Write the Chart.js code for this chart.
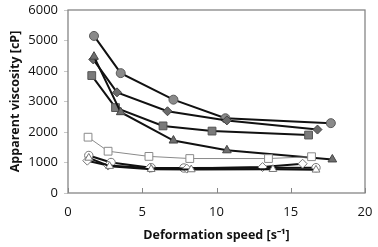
<!DOCTYPE html>
<html>
<head>
<meta charset="utf-8">
<script src="https://cdn.jsdelivr.net/npm/chart.js@4"></script>
<style>
  html, body { margin: 0; padding: 0; background: #fff; }
  #wrap { width: 378px; height: 247px; }
</style>
</head>
<body>
<div id="wrap"><canvas id="viscChart" width="378" height="247"></canvas></div>
<script>
// values
const grayCircleX = [1.75, 3.55, 7.1, 10.6, 17.7];
const grayCircleY = [5150, 3930, 3060, 2450, 2290];
const grayDiamondX = [1.7, 3.3, 6.7, 10.7, 16.8];
const grayDiamondY = [4380, 3300, 2680, 2380, 2080];
const graySquareX = [1.6, 3.2, 6.4, 9.7, 16.2];
const graySquareY = [3850, 2800, 2200, 2030, 1900];
const grayTriangleX = [1.75, 3.55, 7.1, 10.7, 17.8];
const grayTriangleY = [4470, 2650, 1720, 1400, 1100];
const openSquareX = [1.35, 2.7, 5.45, 8.2, 13.5, 16.4];
const openSquareY = [1830, 1370, 1200, 1130, 1130, 1190];
const openCircleX = [1.4, 2.9, 5.6, 7.8, 16.7];
const openCircleY = [1230, 1000, 830, 820, 830];
const openDiamondX = [1.3, 2.7, 5.5, 8.0, 13.1, 15.8];
const openDiamondY = [1060, 900, 820, 800, 850, 960];
const openTriangleX = [1.4, 2.8, 5.6, 8.3, 13.8, 16.7];
const openTriangleY = [1150, 880, 780, 770, 780, 760];
const xTicks = [0, 5, 10, 15, 20];
const yTicks = [0, 1000, 2000, 3000, 4000, 5000, 6000];

const toPoints = (xs, ys) => xs.map((x, i) => ({ x: x, y: ys[i] }));

const series = [
  { xs: openSquareX, ys: openSquareY, style: 'rect', r: 5.5, fill: '#ffffff', edge: '#8a8a8a', line: '#8a8a8a', lw: 1 },
  { xs: openTriangleX, ys: openTriangleY, style: 'triangle', r: 4.5, fill: '#ffffff', edge: '#777777', line: '#111111', lw: 2 },
  { xs: openDiamondX, ys: openDiamondY, style: 'rectRot', r: 4.5, fill: '#ffffff', edge: '#777777', line: '#111111', lw: 2 },
  { xs: openCircleX, ys: openCircleY, style: 'circle', r: 4.2, fill: '#ffffff', edge: '#777777', line: '#111111', lw: 2 },
  { xs: grayTriangleX, ys: grayTriangleY, style: 'triangle', r: 5, fill: '#6e6e6e', edge: '#444444', line: '#111111', lw: 2 },
  { xs: graySquareX, ys: graySquareY, style: 'rect', r: 5.5, fill: '#7a7a7a', edge: '#555555', line: '#111111', lw: 2 },
  { xs: grayDiamondX, ys: grayDiamondY, style: 'rectRot', r: 4.5, fill: '#6a6a6a', edge: '#444444', line: '#111111', lw: 2 },
  { xs: grayCircleX, ys: grayCircleY, style: 'circle', r: 4.5, fill: '#8a8a8a', edge: '#5a5a5a', line: '#111111', lw: 2 }
];

const datasets = series.map(s => ({
  data: toPoints(s.xs, s.ys),
  showLine: true,
  borderColor: s.line,
  borderWidth: s.lw,
  pointStyle: s.style,
  pointRadius: s.r,
  pointBackgroundColor: s.fill,
  pointBorderColor: s.edge,
  pointBorderWidth: 1,
  tension: 0
}));

// plot box and inward x ticks
const frame = {
  id: 'frame',
  afterDatasetsDraw(chart) {
    const { ctx, chartArea: a, scales } = chart;
    ctx.save();
    ctx.strokeStyle = '#868686';
    ctx.lineWidth = 1.3;
    ctx.strokeRect(a.left, a.top, a.right - a.left, a.bottom - a.top);
    ctx.lineWidth = 1;
    xTicks.forEach(v => {
      const px = Math.round(scales.x.getPixelForValue(v)) + 0.5;
      ctx.beginPath();
      ctx.moveTo(px, a.bottom);
      ctx.lineTo(px, a.bottom - 5);
      ctx.stroke();
    });
    ctx.restore();
  }
};

const family = "'Open Sans', 'Liberation Sans', sans-serif";
const tickFont = { family: family, size: 13 };
const titleFont = { family: family, size: 12.5, weight: 'bold' };

new Chart(document.getElementById('viscChart'), {
  type: 'scatter',
  data: { datasets: datasets },
  options: {
    responsive: false,
    animation: false,
    layout: { padding: { top: 10, right: 13, left: 8, bottom: 4 } },
    plugins: { legend: { display: false }, tooltip: { enabled: false } },
    scales: {
      x: {
        type: 'linear',
        min: 0, max: 20,
        afterBuildTicks: s => { s.ticks = xTicks.map(v => ({ value: v })); },
        afterFit: s => { s.height = 50; s.paddingLeft = 0; s.paddingRight = 0; },
        ticks: { color: '#111', font: tickFont, padding: 11, callback: v => String(v) },
        grid: { display: false, drawTicks: false },
        border: { display: false },
        title: {
          display: true,
          text: 'Deformation speed [s\u207B\u00B9]',
          color: '#111',
          font: titleFont,
          padding: { top: 2, bottom: 0 }
        }
      },
      y: {
        type: 'linear',
        min: 0, max: 6000,
        afterBuildTicks: s => { s.ticks = yTicks.map(v => ({ value: v })); },
        afterFit: s => { s.width = 60; s.paddingTop = 0; },
        ticks: { color: '#111', font: tickFont, padding: 6, callback: v => String(v) },
        grid: { drawOnChartArea: false, drawTicks: true, tickLength: 4, color: '#c8c8c8' },
        border: { display: false },
        title: {
          display: true,
          text: 'Apparent viscosity [cP]',
          color: '#111',
          font: titleFont,
          padding: { top: 0, bottom: 2 }
        }
      }
    }
  },
  plugins: [frame]
});
</script>
</body>
</html>
